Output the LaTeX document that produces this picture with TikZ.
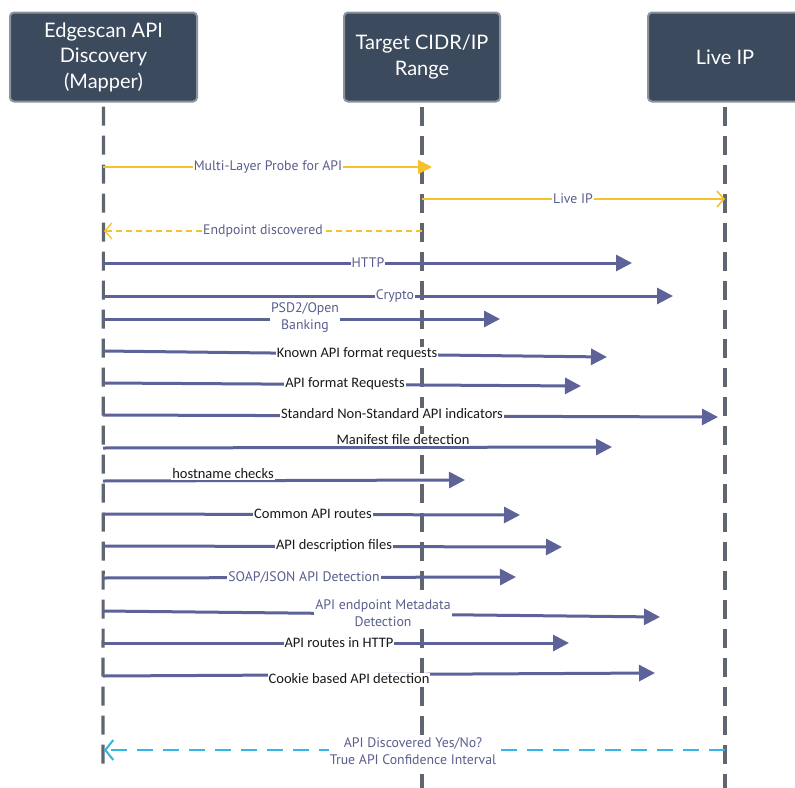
\documentclass[tikz,border=0pt]{standalone}
\usepackage{fontspec}
\setmainfont{Carlito}
\newfontfamily\hfont{Lato}
\newfontfamily\sfont{PT Sans}
\usetikzlibrary{arrows.meta}
\definecolor{boxfill}{HTML}{3B4A5D}
\definecolor{boxedge}{HTML}{8C939C}
\definecolor{lifegray}{HTML}{5F6670}
\definecolor{slate}{HTML}{5D6399}
\definecolor{slatetext}{HTML}{5A5E8C}
\definecolor{gold}{HTML}{F6C12A}
\definecolor{cyanline}{HTML}{35B5E3}
\begin{document}
\begin{tikzpicture}[x=1pt,y=-1pt,
  header/.style={draw=boxedge, line width=2pt, fill=boxfill, rounded corners=4pt,
    text=white, font=\hfont\fontsize{20}{25.5}\selectfont, align=center,
    minimum height=89pt, inner sep=0pt},
  life/.style={lifegray, line width=3.2pt, dash pattern=on 19pt off 10pt},
  msg/.style={slate, line width=3pt, -{Triangle[length=16pt,width=16pt]}},
  goldmsg/.style={gold, line width=1.7pt},
  slbl/.style={fill=white, inner sep=1pt, text=slatetext, align=center,
    font=\sfont\fontsize{13.8}{17}\selectfont},
  blbl/.style={fill=white, inner sep=1pt, text=black!90, align=center,
    font=\fontsize{14.5}{17}\selectfont}
]
\useasboundingbox (0,0) rectangle (795,787);
\fill[white] (0,0) rectangle (795,787);

% headers
\node[header, minimum width=187pt] (mapper) at (103.5,57) {Edgescan API\\Discovery\\(Mapper)};
\node[header, minimum width=156pt] (target) at (422,57) {Target CIDR/IP\\Range};
\node[header, minimum width=154pt] (live) at (725,57) {Live IP};

% lifelines
\coordinate (mapperEnd) at (103,772);
\coordinate (targetEnd) at (422,790);
\coordinate (liveEnd) at (725,790);
\draw[life] ([yshift=-4pt]mapper.south) -- (mapperEnd);
\draw[life] ([yshift=-4pt]target.south) -- (targetEnd);
\draw[life] ([yshift=-4pt]live.south) -- (liveEnd);

% gold messages
\coordinate (p1a) at (103,167); \coordinate (p1b) at (432,167);
\draw[goldmsg, -{Triangle[length=14pt,width=14pt]}] (p1a) -- (p1b);
\node[slbl] (l1) at (268,167) {Multi-Layer Probe for API};

\coordinate (p2a) at (422,199); \coordinate (p2b) at (725,199);
\draw[goldmsg, -{Straight Barb[length=7pt,width=16pt,line width=1.6pt]}] (p2a) -- (p2b);
\node[slbl] (l2) at (573,199) {Live IP};

\coordinate (p3a) at (422,231); \coordinate (p3b) at (104,231);
\draw[gold, line width=1.1pt, dash pattern=on 6pt off 4pt, -{Straight Barb[length=7pt,width=16pt,line width=1.3pt]}] (p3a) -- (p3b);
\node[slbl] (l3) at (263,231) {Endpoint discovered};

% slate messages
\coordinate (p4a) at (103,263); \coordinate (p4b) at (632,263);
\draw[msg] (p4a) -- (p4b);
\node[slbl] (l4) at (368,263) {HTTP};

\coordinate (p5a) at (103,296); \coordinate (p5b) at (673,296);
\draw[msg] (p5a) -- (p5b);
\node[slbl] (l5) at (395,296) {Crypto};

\coordinate (p6a) at (103,319); \coordinate (p6b) at (500,319);
\draw[msg] (p6a) -- (p6b);
\node[slbl] (l6) at (305,318) {PSD2/Open\\Banking};

\coordinate (p7a) at (103,351); \coordinate (p7b) at (607,357);
\draw[msg] (p7a) -- (p7b);
\node[blbl] (l7) at (357,354) {Known API format requests};

\coordinate (p8a) at (103,383); \coordinate (p8b) at (581,386);
\draw[msg] (p8a) -- (p8b);
\node[blbl] (l8) at (345,384) {API format Requests};

\coordinate (p9a) at (103,415); \coordinate (p9b) at (718,417);
\draw[msg] (p9a) -- (p9b);
\node[blbl] (l9) at (392,414) {Standard Non-Standard API indicators};

\coordinate (p10a) at (103,448); \coordinate (p10b) at (612,447);
\draw[msg] (p10a) -- (p10b);
\node[blbl] (l10) at (403,440) {Manifest file detection};

\coordinate (p11a) at (103,481); \coordinate (p11b) at (465,480);
\draw[msg] (p11a) -- (p11b);
\node[blbl] (l11) at (223,474) {hostname checks};

\coordinate (p12a) at (103,514); \coordinate (p12b) at (520,515);
\draw[msg] (p12a) -- (p12b);
\node[blbl] (l12) at (313,514) {Common API routes};

\coordinate (p13a) at (103,546); \coordinate (p13b) at (562,547);
\draw[msg] (p13a) -- (p13b);
\node[blbl] (l13) at (334,546) {API description files};

\coordinate (p14a) at (103,578); \coordinate (p14b) at (516,577);
\draw[msg] (p14a) -- (p14b);
\node[slbl] (l14) at (304,578) {SOAP/JSON API Detection};

\coordinate (p15a) at (103,611); \coordinate (p15b) at (660,617);
\draw[msg] (p15a) -- (p15b);
\node[slbl] (l15) at (383,613) {API endpoint Metadata\\Detection};

\coordinate (p16a) at (103,643); \coordinate (p16b) at (569,643);
\draw[msg] (p16a) -- (p16b);
\node[blbl] (l16) at (339,643) {API routes in HTTP};

\coordinate (p17a) at (103,676); \coordinate (p17b) at (655,673);
\draw[msg] (p17a) -- (p17b);
\node[blbl] (l17) at (349,679) {Cookie based API detection};

% return
\coordinate (p18a) at (725,750); \coordinate (p18b) at (104,750);
\draw[cyanline, line width=2.4pt, dash pattern=on 16pt off 10pt,
  -{Straight Barb[length=8pt,width=20pt,line width=2pt]}] (p18a) -- (p18b);
\node[slbl] (l18) at (413,751) {API Discovered Yes/No?\\True API Confidence Interval};
\end{tikzpicture}
\end{document}
